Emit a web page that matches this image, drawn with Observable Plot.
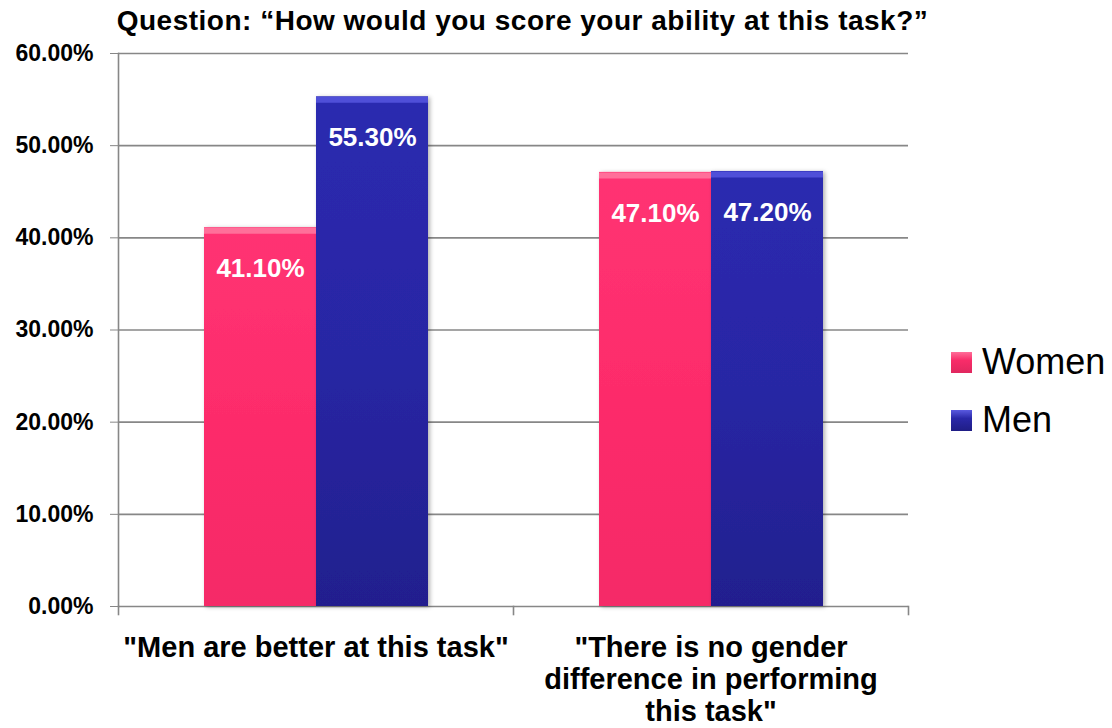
<!DOCTYPE html>
<html><head><meta charset="utf-8">
<script src="https://cdn.jsdelivr.net/npm/d3@7"></script>
<script src="https://cdn.jsdelivr.net/npm/@observablehq/plot@0.6"></script>
<style>
body{margin:0;background:#fff;font-family:"Liberation Sans",Arial,sans-serif;}
#wrap{position:relative;width:1112px;height:728px;overflow:hidden;background:#fff;}
#chart{position:absolute;left:0;top:0;}
#title{position:absolute;left:0;width:1045px;top:7px;text-align:center;font-weight:bold;font-size:28px;letter-spacing:0.5px;line-height:28px;color:#000;white-space:nowrap;}
#legend{position:absolute;left:951px;top:342px;}
.item{display:flex;align-items:center;height:40px;margin-bottom:18px;font-size:36px;line-height:40px;color:#000;}
.sw{width:21px;height:21px;margin-right:10px;box-sizing:border-box;}
</style></head><body>
<div id="wrap"><div id="chart"></div><div id="title"></div><div id="legend"></div></div>
<script>
const titleText = "Question: “How would you score your ability at this task?”";
const categories = ['"Men are better at this task"', '"There is no gender difference in performing this task"'];
const categoryLabels = ['"Men are better at this task"', '"There is no gender\ndifference in performing\nthis task"'];
const series = ["Women", "Men"];
const women = [41.1, 47.1];
const men = [55.3, 47.2];
const yTicks = [0, 10, 20, 30, 40, 50, 60];

const seriesValues = {Women: women, Men: men};
const data = [];
categories.forEach((c, i) => series.forEach(s => data.push({category: c, gender: s, value: seriesValues[s][i]})));

const W = 1112, H = 728, mL = 117, mR = 204, mT = 53, mB = 122;
const plotH = H - mT - mB;
const gray = "#878787";
const font = "'Liberation Sans', Arial, sans-serif";

const chart = Plot.plot({
  width: W, height: H,
  marginLeft: mL, marginRight: mR, marginTop: mT, marginBottom: mB,
  style: {fontFamily: font, background: "transparent", overflow: "visible"},
  fx: {domain: categories, padding: 0, label: null},
  x: {domain: series, paddingInner: 0, paddingOuter: 0.76, axis: null},
  y: {domain: [0, 60], axis: null},
  color: {domain: series, range: ["url(#gWomen)", "url(#gMen)"]},
  marks: [
    Plot.ruleY(yTicks, {stroke: gray, strokeWidth: 1.6}),
    Plot.frame({anchor: "left", facetAnchor: "left", stroke: gray, strokeWidth: 1.6}),
    Plot.frame({anchor: "left", stroke: gray, strokeWidth: 1.6, insetTop: plotH, insetBottom: -8}),
    Plot.frame({anchor: "right", facetAnchor: "right", stroke: gray, strokeWidth: 1.6, insetTop: plotH, insetBottom: -8}),
    Plot.axisY({ticks: yTicks, tickFormat: d => d.toFixed(2) + "%", tickSize: 8, tickPadding: 17,
      stroke: gray, fill: "#000", fontSize: 23, fontWeight: "bold", label: null}),
    Plot.axisFx({anchor: "bottom", tickSize: 0, tickPadding: 28, fontSize: 29, fontWeight: "bold",
      lineHeight: 1.1, fill: "#000", label: null,
      tickFormat: d => categoryLabels[categories.indexOf(d)]}),
    Plot.barY(data, {fx: "category", x: "gender", y: "value", fill: "gender", className: "bars"}),
    Plot.tickY(data.filter(d => d.gender === "Women"), {fx: "category", x: "gender", y: "value", stroke: "#ff6f9a", strokeWidth: 6, dy: 3}),
    Plot.tickY(data.filter(d => d.gender === "Men"), {fx: "category", x: "gender", y: "value", stroke: "#4f4fd8", strokeWidth: 6, dy: 3}),
    Plot.text(data, {fx: "category", x: "gender", y: "value", text: d => d.value.toFixed(2) + "%",
      dy: 41, fill: "#fff", fontSize: 26, fontWeight: "bold"})
  ]
});

const svg = d3.select(chart);
const defs = svg.insert("defs", ":first-child");
function grad(id, stops) {
  const g = defs.append("linearGradient").attr("id", id).attr("x1", 0).attr("y1", 0).attr("x2", 0).attr("y2", 1);
  stops.forEach(([o, c]) => g.append("stop").attr("offset", o).attr("stop-color", c));
}
grad("gWomen", [[0, "#ff3373"], [0.5, "#fd2c6b"], [1, "#f52a67"]]);
grad("gMen", [[0, "#2b2ab0"], [0.5, "#2826a4"], [1, "#221f8e"]]);
const f = defs.append("filter").attr("id", "shadow").attr("x", "-10%").attr("y", "-10%").attr("width", "130%").attr("height", "130%");
f.append("feDropShadow").attr("dx", 2).attr("dy", 1).attr("stdDeviation", 2).attr("flood-color", "#000").attr("flood-opacity", 0.3);
svg.selectAll(".bars rect").attr("filter", "url(#shadow)");

document.getElementById("chart").appendChild(chart);
document.getElementById("title").textContent = titleText;

const legendColors = {Women: "linear-gradient(#ff6d98, #f82c69 40%, #e0285f)", Men: "linear-gradient(#5a5ae0, #2a28a8 40%, #1f1d85)"};
const legend = document.getElementById("legend");
series.forEach(s => {
  const item = document.createElement("div");
  item.className = "item";
  const sw = document.createElement("div");
  sw.className = "sw";
  sw.style.background = legendColors[s];
  const t = document.createElement("span");
  t.textContent = s;
  item.appendChild(sw); item.appendChild(t);
  legend.appendChild(item);
});
</script>
</body></html>
